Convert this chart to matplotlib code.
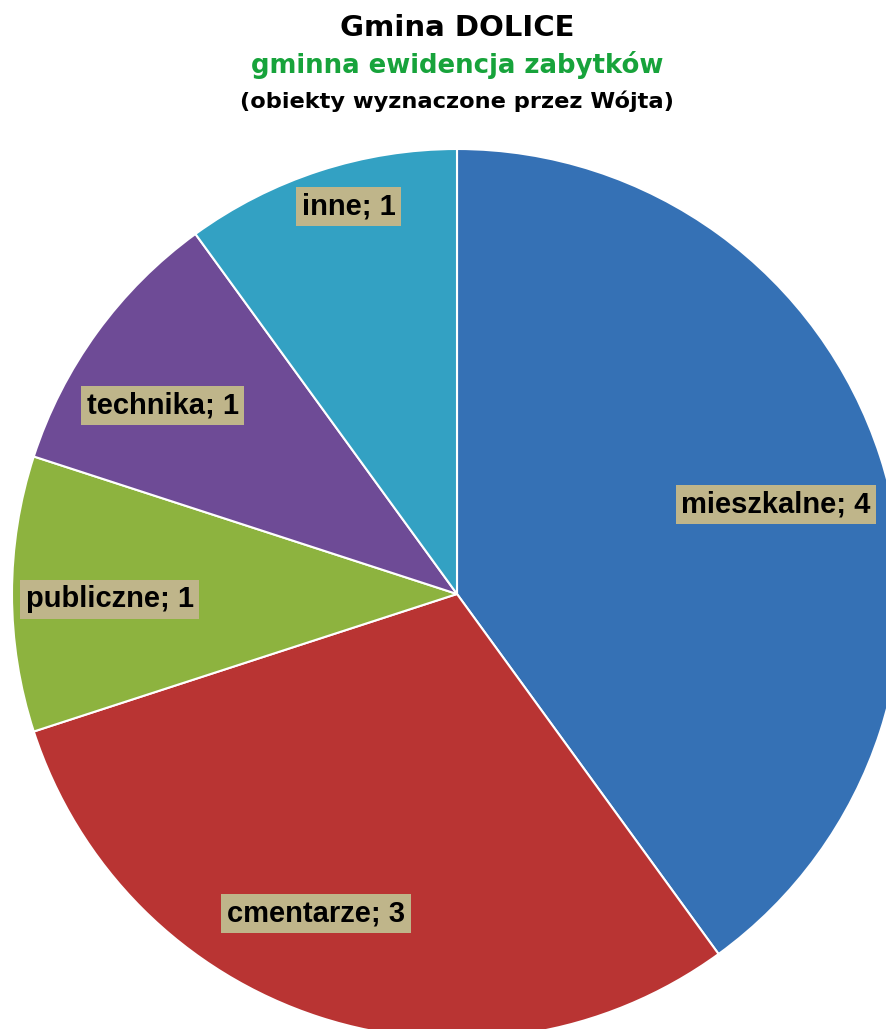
import matplotlib
matplotlib.use("Agg")
import matplotlib.pyplot as plt
import numpy as np

categories = ["mieszkalne", "cmentarze", "publiczne", "technika", "inne"]
values = [4, 3, 1, 1, 1]
colors = ["#3571B5", "#B93433", "#8DB33F", "#6E4B96", "#33A1C3"]

title1 = "Gmina DOLICE"
title2 = "gminna ewidencja zabytków"
title3 = "(obiekty wyznaczone przez Wójta)"

W, H = 886, 1029
cx, cy, R = 457, 594, 445

fig = plt.figure(figsize=(W / 100, H / 100), dpi=100)
ax = fig.add_axes([0, 0, 1, 1])
ax.axis("off")

wedges, _ = ax.pie(values, colors=colors, startangle=90, counterclock=False,
                   radius=1.0, center=(0, 0),
                   wedgeprops=dict(edgecolor="white", linewidth=1.5))
ax.set_aspect("auto")
ax.set_xlim(-cx / R, (W - cx) / R)
ax.set_ylim(-(H - cy) / R, cy / R)

# label placement (radius, angle shift in degrees) per wedge
label_r = [0.745, 0.785, 0.78, 0.785, 0.905]
label_shift = [-2.3, -5.8, 0.9, 3.4, -2.4]
for w, cat, v, r, sh in zip(wedges, categories, values, label_r, label_shift):
    mid = np.deg2rad((w.theta1 + w.theta2) / 2 + sh)
    ax.text(r * np.cos(mid), r * np.sin(mid), f"{cat}; {v}",
            ha="center", va="center", fontsize=21, fontweight="bold",
            family="Liberation Sans", color="black",
            bbox=dict(boxstyle="square,pad=0.19", facecolor="#BFB58A",
                      edgecolor="none"))

tx = cx / W
fig.text(tx, 1 - 28 / H, title1, ha="center", va="center", fontsize=21,
         fontweight="bold", family="DejaVu Sans", color="black")
fig.text(tx, 1 - 65 / H, title2, ha="center", va="center", fontsize=18.7,
         fontweight="bold", family="DejaVu Sans", color="#17A33B")
fig.text(tx, 1 - 101 / H, title3, ha="center", va="center", fontsize=16.2,
         fontweight="bold", family="DejaVu Sans", color="black")

fig.savefig("out.png", dpi=100, facecolor="white")
